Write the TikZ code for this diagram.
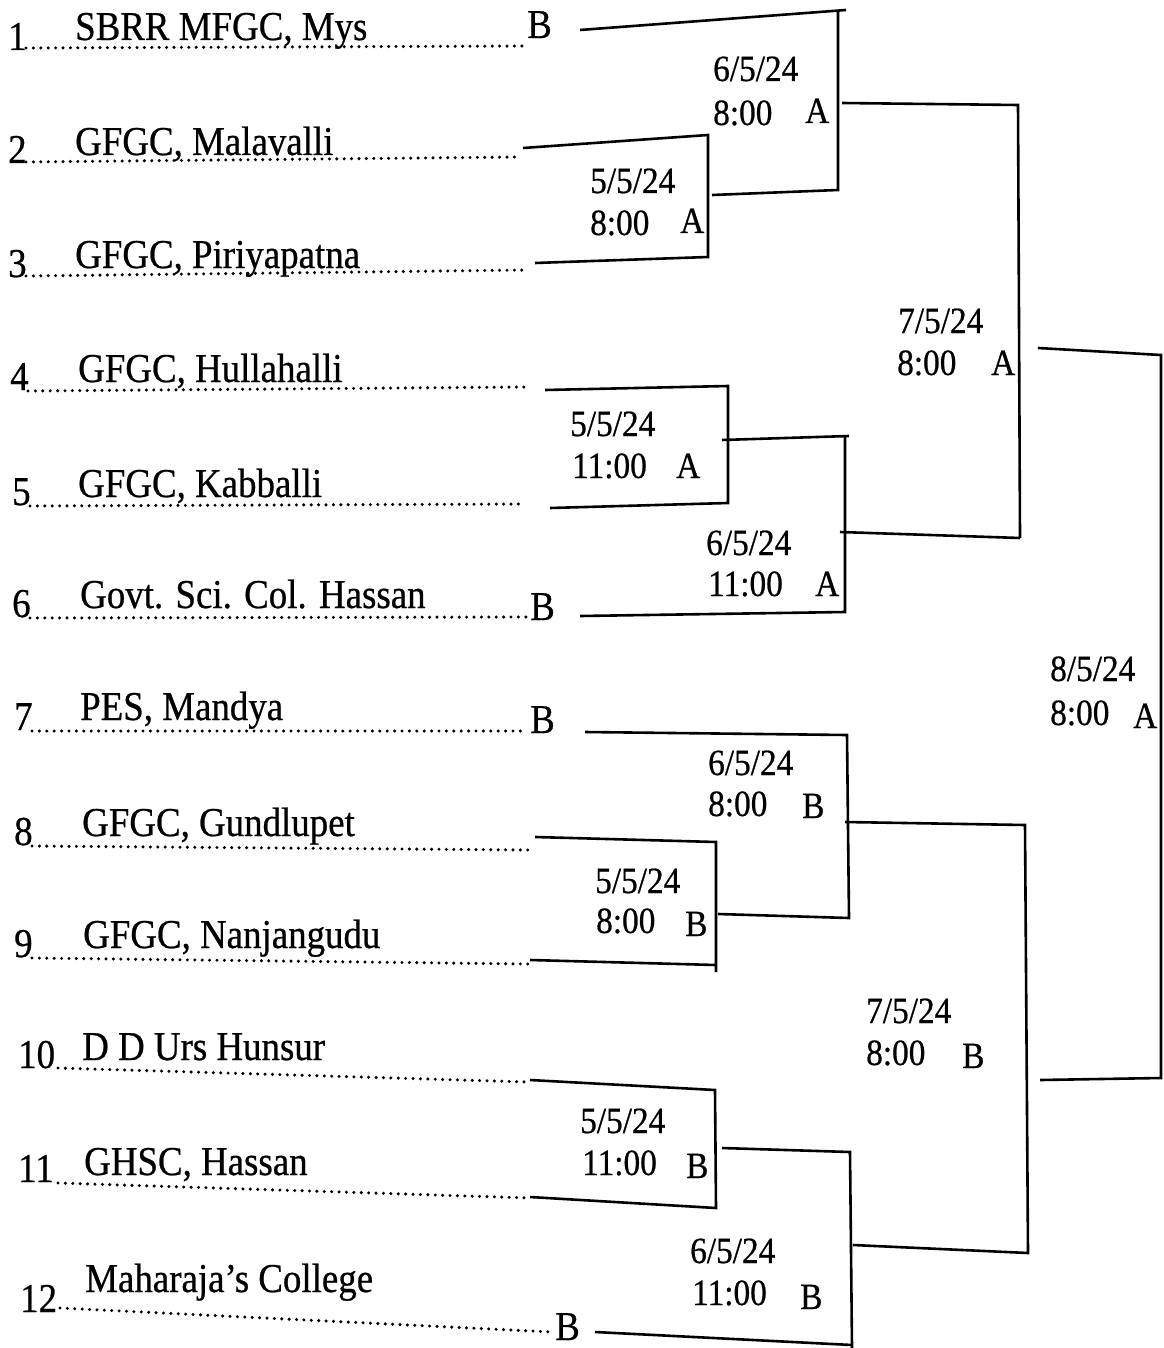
\documentclass[tikz,border=0pt]{standalone}
\usepackage{fontspec}
\usetikzlibrary{calc}
\setmainfont{Liberation Serif}[FakeStretch=0.9,FakeBold=0.6]
\begin{document}
\begin{tikzpicture}[x=1pt,y=-1pt,
  txt/.style={inner sep=0pt, anchor=base west, font=\fontsize{41}{41}\selectfont},
  num/.style={txt},
  dtxt/.style={inner sep=0pt, anchor=base west, font=\fontsize{37}{37}\selectfont},
  leader/.style={line width=3.4pt, line cap=round, dash pattern=on 0pt off 7.4pt},
  bline/.style={line width=2.6pt, line join=miter}]
\useasboundingbox (0,0) rectangle (1163,1348);

% ---------- entries ----------
\node[num] (n1) at (8,50) {1};
\node[txt] (t1) at (75,40) {SBRR MFGC, Mys};
\node[txt] (b1) at (527,38) {B};
\draw[leader] (26,48) coordinate (d1a) -- (522,46) coordinate (d1b);

\node[num] (n2) at (8,163) {2};
\node[txt] (t2) at (75,155) {GFGC, Malavalli};
\draw[leader] (26,162) coordinate (d2a) -- (518,157) coordinate (d2b);

\node[num] (n3) at (8,277) {3};
\node[txt] (t3) at (75,268) {GFGC, Piriyapatna};
\draw[leader] (26,276) coordinate (d3a) -- (528,270) coordinate (d3b);

\node[num] (n4) at (10,390) {4};
\node[txt] (t4) at (78,382) {GFGC, Hullahalli};
\draw[leader] (28,391) coordinate (d4a) -- (525,387) coordinate (d4b);

\node[num] (n5) at (12,505) {5};
\node[txt] (t5) at (78,497) {GFGC, Kabballi};
\draw[leader] (30,506) coordinate (d5a) -- (525,504) coordinate (d5b);

\node[num] (n6) at (12,617) {6};
\node[txt] (t6) at (80,608) {Govt. Sci. Col. Hassan};
\node[txt] (b6) at (530,620) {B};
\draw[leader] (30,618) coordinate (d6a) -- (526,617) coordinate (d6b);

\node[num] (n7) at (14,730) {7};
\node[txt] (t7) at (80,720) {PES, Mandya};
\node[txt] (b7) at (530,733) {B};
\draw[leader] (32,731) coordinate (d7a) -- (526,731) coordinate (d7b);

\node[num] (n8) at (14,845) {8};
\node[txt] (t8) at (82,836) {GFGC, Gundlupet};
\draw[leader] (32,846) coordinate (d8a) -- (528,850) coordinate (d8b);

\node[num] (n9) at (14,957) {9};
\node[txt] (t9) at (83,948) {GFGC, Nanjangudu};
\draw[leader] (32,958) coordinate (d9a) -- (528,964) coordinate (d9b);

\node[num] (n10) at (18,1068) {10};
\node[txt] (t10) at (82,1060) {D D Urs Hunsur};
\draw[leader] (58,1068) coordinate (d10a) -- (528,1082) coordinate (d10b);

\node[num] (n11) at (18,1182) {11};
\node[txt] (t11) at (84,1175) {GHSC, Hassan};
\draw[leader] (58,1183) coordinate (d11a) -- (530,1198) coordinate (d11b);

\node[num] (n12) at (20,1312) {12};
\node[txt] (t12) at (85,1292) {Maharaja’s College};
\node[txt] (b12) at (555,1340) {B};
\draw[leader] (60,1308) coordinate (d12a) -- (552,1332) coordinate (d12b);

% ---------- match labels ----------
\node[dtxt] (m1d) at (590,193) {5/5/24};
\node[dtxt] (m1t) at (590,235) {8:00};
\node[dtxt] (m1c) at (680,233) {A};

\node[dtxt] (m2d) at (713,81) {6/5/24};
\node[dtxt] (m2t) at (713,125) {8:00};
\node[dtxt] (m2c) at (805,123) {A};

\node[dtxt] (m3d) at (570,436) {5/5/24};
\node[dtxt] (m3t) at (572,478) {11:00};
\node[dtxt] (m3c) at (676,478) {A};

\node[dtxt] (m4d) at (706,555) {6/5/24};
\node[dtxt] (m4t) at (708,596) {11:00};
\node[dtxt] (m4c) at (815,596) {A};

\node[dtxt] (m5d) at (898,333) {7/5/24};
\node[dtxt] (m5t) at (897,375) {8:00};
\node[dtxt] (m5c) at (991,375) {A};

\node[dtxt] (m6d) at (708,775) {6/5/24};
\node[dtxt] (m6t) at (708,816) {8:00};
\node[dtxt] (m6c) at (802,818) {B};

\node[dtxt] (m7d) at (595,893) {5/5/24};
\node[dtxt] (m7t) at (596,933) {8:00};
\node[dtxt] (m7c) at (685,936) {B};

\node[dtxt] (m8d) at (580,1133) {5/5/24};
\node[dtxt] (m8t) at (582,1175) {11:00};
\node[dtxt] (m8c) at (686,1178) {B};

\node[dtxt] (m9d) at (690,1263) {6/5/24};
\node[dtxt] (m9t) at (692,1305) {11:00};
\node[dtxt] (m9c) at (800,1309) {B};

\node[dtxt] (m10d) at (866,1023) {7/5/24};
\node[dtxt] (m10t) at (866,1065) {8:00};
\node[dtxt] (m10c) at (962,1068) {B};

\node[dtxt] (m11d) at (1050,681) {8/5/24};
\node[dtxt] (m11t) at (1050,725) {8:00};
\node[dtxt] (m11c) at (1133,728) {A};

% ---------- bracket coordinates ----------
\coordinate (a2) at (523,148); \coordinate (k1t) at (708,135);
\coordinate (a3) at (535,263); \coordinate (k1b) at (708,257);
\coordinate (o1) at (712,195);
\coordinate (a1) at (580,30); \coordinate (k2t) at (838,11); \coordinate (k2x) at (846,10);
\coordinate (k2b) at (838,190);
\coordinate (o2) at (842,103);
\coordinate (a4) at (545,390); \coordinate (k3t) at (728,386);
\coordinate (a5) at (550,508); \coordinate (k3b) at (728,503);
\coordinate (o3) at (722,440);
\coordinate (k4t) at (845,436); \coordinate (k4x) at (849,436);
\coordinate (a6) at (580,616); \coordinate (k4b) at (845,612);
\coordinate (o4) at (840,532);
\coordinate (k5t) at (1018,105); \coordinate (k5b) at (1020,538);
\coordinate (o5) at (1038,348);
\coordinate (a8) at (535,837); \coordinate (k7t) at (716,842);
\coordinate (a9) at (530,960); \coordinate (k7b) at (716,972);
\coordinate (k7m) at (716,965);
\coordinate (o7) at (718,914);
\coordinate (a7) at (585,732); \coordinate (k6t) at (847,735);
\coordinate (k6b) at (849,918);
\coordinate (o6) at (845,822);
\coordinate (a10) at (530,1080); \coordinate (k8t) at (715,1090);
\coordinate (a11) at (530,1197); \coordinate (k8b) at (716,1208);
\coordinate (o8) at (722,1148);
\coordinate (k9t) at (850,1152); \coordinate (k9b) at (852,1348);
\coordinate (a12) at (595,1332); \coordinate (k9m) at (852,1345);
\coordinate (o9) at (853,1245);
\coordinate (k10t) at (1025,825); \coordinate (k10b) at (1028,1253);
\coordinate (o10) at (1040,1080);
\coordinate (kft) at (1161,355); \coordinate (kfb) at (1161,1078);

% ---------- bracket lines ----------
\draw[bline] (a2) -- (k1t) -- (k1b) -- (a3);
\draw[bline] (o1) -- (k2b) -- (k2t);
\draw[bline] (a1) -- (k2x);
\draw[bline] (o2) -- (k5t) -- (k5b);

\draw[bline] (a4) -- (k3t) -- (k3b) -- (a5);
\draw[bline] (o3) -- (k4x);
\draw[bline] (k4t) -- (k4b) -- (a6);
\draw[bline] (o4) -- (k5b);

\draw[bline] (o5) -- (kft) -- (kfb) -- (o10);

\draw[bline] (a7) -- (k6t) -- (k6b) -- (o7);
\draw[bline] (a8) -- (k7t) -- (k7b);
\draw[bline] (a9) -- (k7m);
\draw[bline] (o6) -- (k10t) -- (k10b) -- (o9);

\draw[bline] (a10) -- (k8t) -- (k8b) -- (a11);
\draw[bline] (o8) -- (k9t) -- (k9b);
\draw[bline] (a12) -- (k9m);
\end{tikzpicture}
\end{document}
